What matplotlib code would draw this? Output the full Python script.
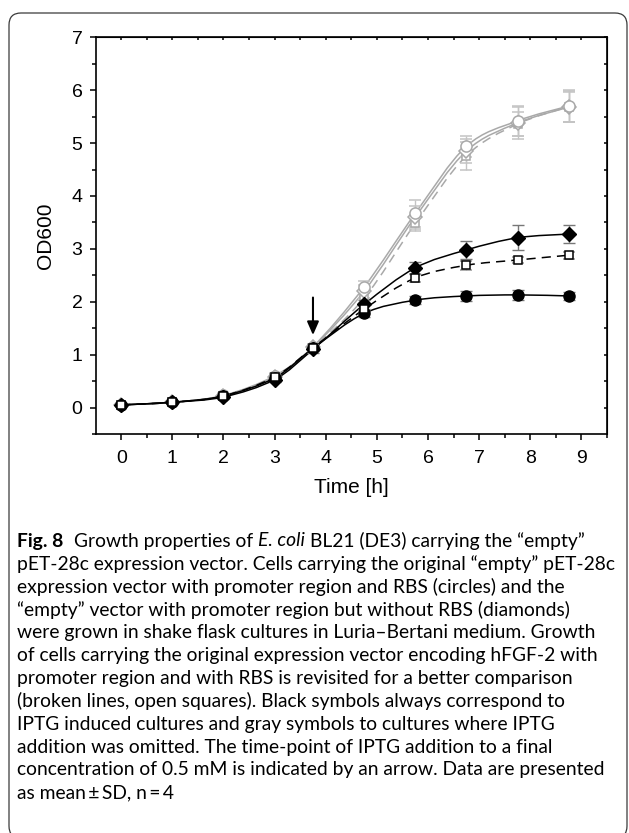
import matplotlib
matplotlib.use("Agg")
import matplotlib.pyplot as plt
from matplotlib.path import Path
from matplotlib.patches import PathPatch, FancyBboxPatch
import numpy as np

# time points [h]
t = [0, 1, 2, 3, 3.75, 4.75, 5.75, 6.75, 7.75, 8.75]

# IPTG induced (black)
circ_ind = [0.05, 0.10, 0.22, 0.56, 1.12, 1.78, 2.03, 2.11, 2.13, 2.11]
circ_ind_sd = [0.03, 0.03, 0.04, 0.05, 0.06, 0.07, 0.08, 0.10, 0.10, 0.08]
diam_ind = [0.05, 0.10, 0.20, 0.53, 1.10, 1.95, 2.64, 2.98, 3.21, 3.28]
diam_ind_sd = [0.03, 0.03, 0.04, 0.05, 0.06, 0.08, 0.11, 0.17, 0.24, 0.17]
sq_ind = [0.05, 0.10, 0.22, 0.58, 1.13, 1.86, 2.45, 2.69, 2.79, 2.88]
sq_ind_sd = [0.03, 0.03, 0.04, 0.05, 0.06, 0.07, 0.08, 0.08, 0.06, 0.07]

# not induced (gray)
circ_non = [0.05, 0.10, 0.23, 0.60, 1.15, 2.28, 3.67, 4.94, 5.42, 5.70]
circ_non_sd = [0.03, 0.03, 0.04, 0.05, 0.06, 0.12, 0.26, 0.20, 0.28, 0.30]
diam_non = [0.05, 0.10, 0.22, 0.58, 1.14, 2.20, 3.60, 4.85, 5.38, 5.68]
diam_non_sd = [0.03, 0.03, 0.04, 0.05, 0.06, 0.12, 0.22, 0.22, 0.30, 0.28]
sq_non = [0.05, 0.10, 0.22, 0.58, 1.13, 2.07, 3.48, 4.76, 5.36, 5.69]
sq_non_sd = [0.03, 0.03, 0.04, 0.05, 0.06, 0.10, 0.15, 0.26, 0.22, 0.30]

xticks = list(range(10))
yticks = list(range(8))
arrow_t = 3.75

caption = [
    "pET-28c expression vector. Cells carrying the original \u201cempty\u201d pET-28c",
    "expression vector with promoter region and RBS (circles) and the",
    "\u201cempty\u201d vector with promoter region but without RBS (diamonds)",
    "were grown in shake flask cultures in Luria\u2013Bertani medium. Growth",
    "of cells carrying the original expression vector encoding hFGF-2 with",
    "promoter region and with RBS is revisited for a better comparison",
    "(broken lines, open squares). Black symbols always correspond to",
    "IPTG induced cultures and gray symbols to cultures where IPTG",
    "addition was omitted. The time-point of IPTG addition to a final",
    "concentration of 0.5 mM is indicated by an arrow. Data are presented",
    "as mean\u2009\u00b1\u2009SD, n\u2009=\u20094",
]

GRAY = "#a9a9a9"
plt.rcParams["font.family"] = ["Liberation Sans", "DejaVu Sans"]


def smooth(ax, x, y, **kw):
    # Catmull-Rom curve through the points, drawn as cubic Bezier path
    pts = np.column_stack([x, y]).astype(float)
    p = np.vstack([pts[0], pts, pts[-1]])
    verts = [pts[0]]
    codes = [Path.MOVETO]
    for i in range(1, len(p) - 2):
        c1 = p[i] + (p[i + 1] - p[i - 1]) / 6
        c2 = p[i + 1] - (p[i + 2] - p[i]) / 6
        verts += [c1, c2, p[i + 1]]
        codes += [Path.CURVE4] * 3
    ax.add_patch(PathPatch(Path(verts, codes), fill=False, **kw))


fig = plt.figure(figsize=(6.29, 8.33), dpi=100)
ax = fig.add_axes([0.1521, 0.479, 0.8129, 0.4762])

# gray (non induced)
smooth(ax, t, circ_non, color=GRAY, lw=1.1, zorder=2)
smooth(ax, t, diam_non, color=GRAY, lw=1.1, zorder=2)
smooth(ax, t, sq_non, color=GRAY, lw=1.1, ls=(0, (6, 4)), zorder=2)
for y, sd, m, ms in [(sq_non, sq_non_sd, "s", 6), (diam_non, diam_non_sd, "D", 7),
                     (circ_non, circ_non_sd, "o", 8)]:
    ax.errorbar(t, y, yerr=sd, fmt=m, ms=ms, mfc="white", mec=GRAY, mew=1.1,
                ecolor="#c4c4c4", elinewidth=1.0, capsize=4.5, capthick=1.0, zorder=3)

# black (IPTG induced)
smooth(ax, t, circ_ind, color="black", lw=1.1, zorder=4)
smooth(ax, t, diam_ind, color="black", lw=1.1, zorder=4)
smooth(ax, t, sq_ind, color="black", lw=1.1, ls=(0, (6, 4)), zorder=4)
ax.errorbar(t, circ_ind, yerr=circ_ind_sd, fmt="o", ms=8, mfc="black", mec="black",
            ecolor="#777777", elinewidth=1.0, capsize=4.5, capthick=1.0, zorder=5)
ax.errorbar(t, diam_ind, yerr=diam_ind_sd, fmt="D", ms=7.5, mfc="black", mec="black",
            ecolor="#777777", elinewidth=1.0, capsize=4.5, capthick=1.0, zorder=5)
ax.errorbar(t, sq_ind, yerr=sq_ind_sd, fmt="s", ms=6, mfc="white", mec="black", mew=1.1,
            ecolor="#999999", elinewidth=1.0, capsize=4.5, capthick=1.0, zorder=5)

ax.annotate("", xy=(arrow_t, 1.37), xytext=(arrow_t, 2.08),
            arrowprops=dict(arrowstyle="-|>,head_width=0.35,head_length=0.8",
                            color="black", lw=1.5, shrinkA=0, shrinkB=0), zorder=6)

ax.set_xlim(-0.5, 9.5)
ax.set_ylim(-0.5, 7)
ax.set_xticks(xticks)
ax.set_yticks(yticks)
ax.set_xticks([x + 0.5 for x in xticks], minor=True)
ax.set_yticks([y + 0.5 for y in yticks[:-1]] + [-0.5], minor=True)
for s in ax.spines.values():
    s.set_linewidth(1.2)
ax.tick_params(which="major", direction="out", length=4.5, width=1.1, labelsize=14, pad=5)
ax.tick_params(axis="x", which="major", pad=7)
ax.tick_params(which="minor", direction="out", length=2.6, width=1.1)
ax.set_xlabel("Time [h]", fontsize=15, labelpad=8)
ax.set_ylabel("OD600", fontsize=15, labelpad=12)

top = ax.secondary_xaxis("top")
top.set_xticks(xticks)
top.set_xticks([x + 0.5 for x in xticks], minor=True)
top.tick_params(which="both", direction="in", length=2.5, width=1.1, labeltop=False)
right = ax.secondary_yaxis("right")
right.set_yticks(yticks)
right.set_yticks([y + 0.5 for y in yticks[:-1]], minor=True)
right.tick_params(which="both", direction="in", length=2.5, width=1.1, labelright=False)

# rounded frame around figure + caption
frame = FancyBboxPatch((0.09, -0.05), 6.18, 8.25, boxstyle="round,pad=0,rounding_size=0.12",
                       transform=fig.dpi_scale_trans, fill=False, ec="#3a3a3a", lw=0.9)
fig.patches.append(frame)

# caption text
cap_font = "Lato"
renderer = fig.canvas.get_renderer()
W, H = fig.bbox.width, fig.bbox.height


def width_px(s, size, **kw):
    tt = fig.text(0, 0, s, fontsize=size, family=cap_font, **kw)
    w = tt.get_window_extent(renderer).width
    tt.remove()
    return w


size = 10 * 598 / max(width_px(line, 10) for line in caption)
x0 = 17
y0 = 541
dy = 22.9

# first line with mixed styles
space = width_px("a a", size) - width_px("aa", size)
pieces = [("Fig. 8", "bold", "normal", 2.2), ("Growth properties of", "normal", "normal", 1),
          ("E. coli", "normal", "italic", 1), ("BL21 (DE3) carrying the \u201cempty\u201d", "normal", "normal", 0)]
x = x0
for s, wgt, sty, gap in pieces:
    tt = fig.text(x / W, 1 - y0 / H, s, fontsize=size, family=cap_font, weight=wgt,
                  style=sty, va="center", ha="left")
    x = tt.get_window_extent(renderer).x1 + gap * space

for i, line in enumerate(caption, start=1):
    fig.text(x0 / W, 1 - (y0 + i * dy) / H, line, fontsize=size,
             family=[cap_font, "DejaVu Sans"], va="center", ha="left")

fig.savefig("out.png", dpi=100)
